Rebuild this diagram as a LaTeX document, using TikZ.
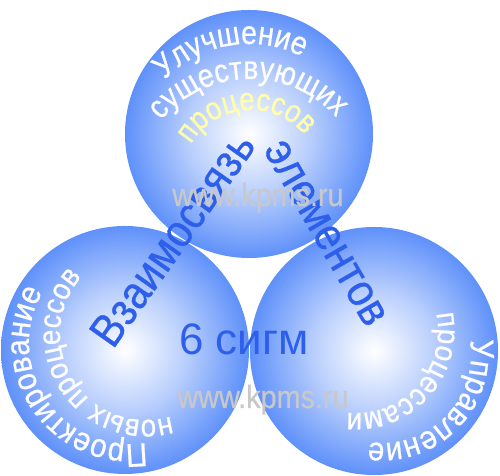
\documentclass[tikz,border=0pt]{standalone}
\usepackage{fontspec}
\setmainfont{Liberation Sans}
\newfontfamily\tallsans[FakeStretch=0.9, FakeBold=0.6]{Liberation Sans}
\newfontfamily\narrowsans[FakeStretch=0.86, FakeBold=0.6]{Liberation Sans}
\usepackage{tikz}
\usetikzlibrary{decorations.text}

\definecolor{sphereblue}{RGB}{95,145,250}
\definecolor{inkblue}{RGB}{45,95,235}
\definecolor{paleyellow}{RGB}{255,255,170}
\definecolor{markgray}{RGB}{200,200,200}

\pgfdeclareradialshading{glassball}{\pgfpoint{0bp}{0bp}}{color(0bp)=(white); color(12.5bp)=(sphereblue!45!white); color(25bp)=(sphereblue); color(50bp)=(sphereblue)}

\newcommand{\ballfont}{\tallsans\fontsize{16.5}{19}\selectfont}
\newcommand{\topballfont}{\narrowsans\fontsize{16.5}{19}\selectfont}
\newcommand{\smallballfont}{\tallsans\fontsize{15.5}{18}\selectfont}
\newcommand{\linkfont}{\tallsans\fontsize{23}{27}\selectfont}

\begin{document}
\begin{tikzpicture}[x=0.5pt,y=0.5pt,
    sphere/.style={shading=glassball},
    balltext/.style 2 args={decorate, decoration={text along path,
        text align=center, text color=#1, text={|\ballfont|#2}}},
    topballtext/.style 2 args={decorate, decoration={text along path,
        text align=center, text color=#1, text={|\topballfont|#2}}},
    watermark/.style={text=markgray, font=\tallsans\fontsize{16}{19}\selectfont, anchor=base, inner sep=0pt}]
    \useasboundingbox (0,0) rectangle (500,476);

    % spheres
    \shade[sphere] (249,342) circle (124);
    \shade[sphere] (125,126) circle (124);
    \shade[sphere] (374,125) circle (124);

    % top sphere
    \path[topballtext={white}{Улучшение}] (249,315) ++(159.5:117) arc[start angle=159.5, end angle=39.5, radius=117];
    \path[topballtext={white}{существующих}] (250,281) ++(151:116) arc[start angle=151, end angle=31, radius=116];
    \path[decorate, decoration={text along path, text align=center, text color=paleyellow,
        text={|\narrowsans\fontsize{16}{19}\selectfont|процессов}}] (251,296) ++(169.5:70) arc[start angle=169.5, end angle=19.5, radius=70];

    % left sphere
    \path[balltext={white}{Проектирование}] (130,133) ++(294.5:101) arc[start angle=294.5, end angle=134.5, radius=101];
    \path[decorate, decoration={text along path, text align=center, text color=white,
        text={|\smallballfont|новых процессов}}] (146,142) ++(297.5:86) arc[start angle=297.5, end angle=127.5, radius=86];

    % right sphere
    \path[balltext={white}{Управление}] (382,122) ++(45:89) arc[start angle=45, end angle=-135, radius=89];
    \path[decorate, decoration={text along path, text align=center, text color=white,
        text={|\smallballfont|процессами}}] (356,145) ++(48:82) arc[start angle=48, end angle=-132, radius=82];

    % link text
    \coordinate (linkstart) at (113,126);
    \coordinate (linktop) at (259,333);
    \coordinate (linkend) at (374,134);
    \path[decorate, decoration={text along path, text color=inkblue,
        text={|\linkfont|Взаимосвязь элементов}}] (linkstart) -- (linktop) -- (linkend);

    \node[text=inkblue, font=\fontsize{22}{26}\selectfont, anchor=base, inner sep=0pt] (sigma) at (244,121) {6 сигм};

    \node[watermark] (markup) at (258,270) {www.kpms.ru};
    \node[watermark] (markdown) at (263,68) {www.kpms.ru};
\end{tikzpicture}
\end{document}
